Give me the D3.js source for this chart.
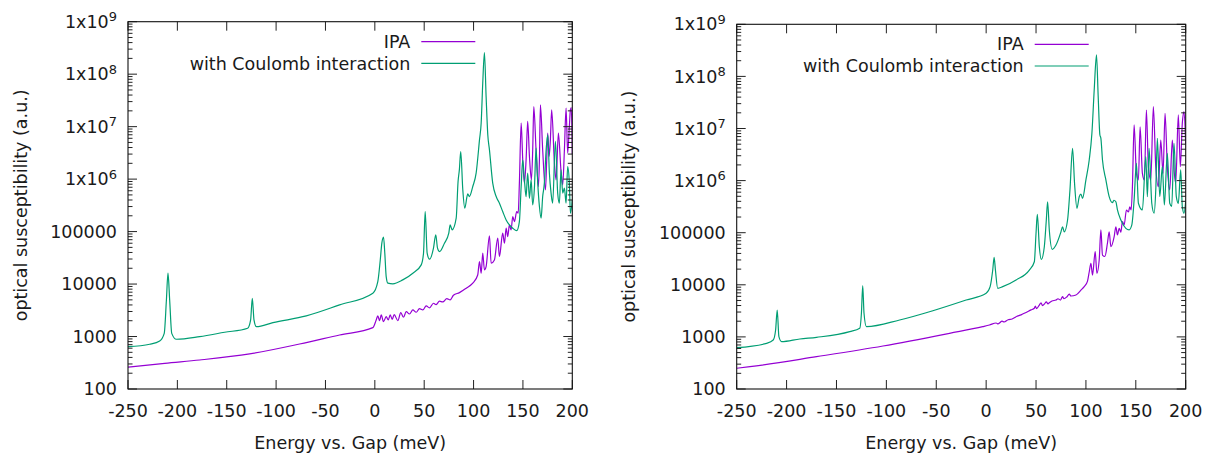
<!DOCTYPE html>
<html>
<head>
<meta charset="utf-8">
<script src="https://cdn.jsdelivr.net/npm/d3@7"></script>
<style>
  body { margin: 0; background: #fff; }
  text { font-family: "DejaVu Sans", sans-serif; fill: #1a1a1a; }
</style>
</head>
<body>
<svg id="chart" width="1213" height="454"></svg>
<script>
// tick values and labels (shared by both panels)
const xTicks = [-250, -200, -150, -100, -50, 0, 50, 100, 150, 200];
const yTicks = [1e2, 1e3, 1e4, 1e5, 1e6, 1e7, 1e8, 1e9];
const yTickLabels = ["100", "1000", "10000", "100000", "1x10^6", "1x10^7", "1x10^8", "1x10^9"];
const seriesNames = ["IPA", "with Coulomb interaction"];

// [energy (meV), susceptibility]
const leftIpa = [
  [-250, 260], [-212.8, 309], [-177.4, 357], [-126.8, 466], [-76.2, 720], [-35.7, 1070], [-2, 1475],
  [1.4, 2070], [3, 2470], [4.8, 2010], [6.5, 2580], [8.8, 1920], [11.5, 2390], [13.6, 2070],
  [15.6, 2580], [17.6, 2130], [19.6, 2610], [23.3, 2010], [26.3, 2850], [29, 2330], [31.8, 2980],
  [35.1, 2690], [38.5, 3210], [41.9, 2900], [45.2, 3400], [48.6, 3210], [52, 3830], [55.4, 3510],
  [59.4, 4310], [62.1, 4060], [65.5, 4710], [68.8, 4560], [72.9, 5270], [76.3, 4980], [79.6, 6120],
  [85.7, 6870], [92.5, 8340], [99.2, 10400], [104.2, 14900], [106, 26800], [107.7, 16100],
  [109.3, 38700], [111, 18600], [112.7, 21500], [116.1, 82800], [117.8, 24900], [121.1, 28800],
  [124.5, 74800], [126.2, 33400], [129.5, 93300], [131.3, 60100], [133, 116000], [134.6, 80400],
  [136.3, 134000], [138, 108000], [139.7, 193000], [141.4, 155000], [143.7, 241000], [145.2, 224000],
  [146.4, 838000], [148.2, 1.17e7], [149.8, 2.33e6], [151.5, 838000], [153.2, 2.33e6], [154.8, 1.26e7],
  [156.6, 2.7e6], [158.6, 968000], [159.9, 3.6e6], [161, 2.42e7], [163.3, 3.6e6], [165.7, 721000],
  [166.7, 2.33e6], [167.7, 2.61e7], [170, 3.6e6], [172.8, 625000], [174.1, 2.33e6], [175.1, 7.5e6],
  [176.5, 2.7e6], [177.8, 5.6e6], [179.1, 2.1e7], [181.9, 2.02e6], [183.6, 968000], [185.9, 7.5e6],
  [188.6, 1.4e6], [190.3, 778000], [192, 3.6e6], [193.7, 2.26e7], [195.3, 3.13e6], [197, 1e7],
  [198.1, 2.1e7], [199, 2.3e7], [200, 3e6]
];
const leftCoulomb = [
  [-250, 640], [-228, 713], [-217.9, 822], [-213.3, 1150], [-211.1, 4980], [-209.5, 16100],
  [-207.8, 4980], [-205.7, 1150], [-201, 887], [-177.4, 995], [-152.1, 1205], [-128.8, 1440],
  [-125.8, 2070], [-124.1, 5370], [-122.4, 2070], [-120, 1540], [-103.2, 1840], [-69.4, 2470],
  [-35.7, 4000], [-2, 6680], [3, 11100], [5.5, 28800], [7.1, 60100], [8.8, 78200], [10.1, 38700],
  [11.5, 13900], [13.2, 10400], [18.2, 10100], [28.3, 12000], [38.5, 16100], [47, 23200],
  [49.3, 38700], [51, 241000], [53, 38700], [55.4, 29800], [59.4, 48300], [61.7, 86500],
  [63.5, 48300], [65.5, 41600], [70.5, 60100], [74.9, 93300], [76.3, 134000], [78.3, 108000],
  [82.4, 180000], [84.3, 900000], [85.6, 1.5e6], [87, 3.36e6], [89.1, 625000], [91.1, 280000],
  [94.1, 524000], [95.8, 465000], [99.2, 722000], [102.6, 1.3e6], [106, 5.6e6], [107.7, 1.17e7],
  [109.3, 6.78e7], [111, 2.59e8], [112.7, 3.76e7], [114.4, 7e6], [116.1, 3.61e6], [119.4, 838000],
  [122.9, 465000], [126.2, 348000], [129.5, 241000], [133, 167000], [136.3, 134000], [139.7, 116000],
  [143.7, 104000], [146.4, 155000], [148.2, 721000], [149.8, 2.33e6], [151.5, 968000], [153.2, 465000],
  [154.8, 1.3e6], [156.6, 431000], [158.3, 968000], [159.9, 323000], [161.7, 721000], [163.3, 3.9e6],
  [165, 838000], [166.7, 300000], [168.4, 180000], [170, 465000], [171.7, 838000], [173.5, 3.61e6],
  [175.1, 7e6], [176.8, 1.3e6], [178.5, 540000], [180.1, 348000], [182.9, 5.25e6], [185.2, 540000],
  [186.9, 348000], [188.6, 1.5e6], [190.3, 540000], [192, 673000], [193.7, 348000], [195.3, 1.74e6],
  [197, 838000], [198.1, 224000], [200, 400000]
];

// [energy (meV), susceptibility]
const rightIpa = [
  [-250, 250], [-236.7, 268], [-170, 417], [-103.4, 669], [-36.7, 1170], [-3.4, 1570], [3.3, 1690],
  [10, 1850], [12, 1780], [16, 2000], [18, 1930], [22, 2130], [26, 2200], [30, 2440], [35, 2650],
  [40, 2950], [45, 3300], [48.3, 3540], [49.3, 3900], [50.5, 3500], [53.3, 4090], [55, 4500],
  [56.5, 4000], [58.5, 4300], [60.3, 4700], [62, 4300], [63.3, 4530], [66, 4900], [70, 5100],
  [72, 5400], [74.5, 5100], [76.6, 5920], [78, 5400], [81, 5900], [83.3, 6600], [85, 6100],
  [90, 6370], [95, 7900], [98.3, 9210], [101.6, 11800], [103.3, 17600], [105, 25900], [106.6, 15400],
  [109.3, 43200], [111, 16600], [113.3, 29900], [115, 113000], [116.6, 37300], [119, 35000],
  [121.6, 63400], [123.3, 104000], [125, 53800], [128.3, 83800], [130, 130000], [131.6, 90400],
  [133.3, 121000], [135, 103000], [136.6, 163000], [138.3, 141000], [140.6, 273000], [142.6, 250000],
  [144, 315000], [145.3, 273000], [146.6, 764000], [148.3, 1.17e7], [150.6, 1.38e6], [152.6, 1.03e6],
  [154.3, 1.08e7], [156.6, 1.38e6], [158.6, 1.03e6], [160.6, 2.26e7], [162.6, 1.85e6], [165, 1.03e6],
  [167.6, 2.62e7], [170, 1.85e6], [172.6, 764000], [175, 6e6], [177.3, 1.38e6], [179.3, 1.96e7],
  [181.6, 1.85e6], [184, 661000], [186.6, 6e6], [188.6, 1.38e6], [190, 887000], [192.6, 1.82e7],
  [194.6, 1.85e6], [196.6, 1.26e7], [198.3, 2.1e7], [200, 5e6]
];
const rightCoulomb = [
  [-250, 621], [-220, 753], [-213.4, 871], [-211, 1355], [-209.4, 3280], [-207.7, 1010], [-205, 809],
  [-186.7, 912], [-170, 982], [-136.7, 1260], [-126.7, 1460], [-125, 2840], [-123.7, 9620],
  [-122.4, 2840], [-120, 1570], [-86.7, 2110], [-53.4, 3180], [-20, 5110], [0, 6870], [4, 9210],
  [6.6, 19200], [8, 33700], [9.3, 19200], [11.6, 8570], [16.6, 9210], [30, 12400], [43.3, 19200],
  [48.3, 27700], [50, 97300], [51.3, 225000], [53.3, 53800], [55.3, 30800], [58.3, 53800],
  [60.3, 175000], [61.6, 393000], [63.3, 113000], [66.3, 48000], [70, 58000], [75, 104000],
  [76.6, 130000], [78.3, 104000], [81.6, 175000], [84, 661000], [86.6, 4.17e6], [88.6, 887000],
  [91, 294000], [93.3, 491000], [95, 550000], [96.6, 457000], [100, 1.03e6], [103.3, 2.48e6],
  [106, 8.09e6], [108.3, 5.48e7], [110.6, 2.58e8], [112.3, 4.07e7], [114, 7.5e6], [115, 6.48e6],
  [116.6, 2.48e6], [120, 1.03e6], [123.3, 491000], [126.6, 377000], [128, 420000], [130, 393000],
  [131.6, 273000], [135, 175000], [140, 121000], [143.3, 113000], [146, 141000], [148.3, 424000],
  [150.6, 2.15e6], [152.6, 367000], [156.6, 273000], [160, 2.88e6], [161.6, 491000], [163.3, 4.17e6],
  [166, 367000], [168.3, 236000], [170, 661000], [171.6, 6.48e6], [174, 491000], [176.6, 1.85e6],
  [178.6, 340000], [181.6, 3.34e6], [184, 367000], [186, 320000], [188.3, 5.2e6], [190.6, 491000],
  [192.6, 367000], [195, 1.6e6], [196.6, 316000], [198.3, 236000], [200, 400000]
];

const colors = ["#9400d3", "#009e73"];
const fontSize = 17.5;

const panels = [
  { id: "l", box: { left: 128, right: 572.3, top: 21.7, bottom: 389 }, series: [leftIpa, leftCoulomb] },
  { id: "r", box: { left: 736.7, right: 1185.7, top: 24.3, bottom: 389 }, series: [rightIpa, rightCoulomb] }
];

const svg = d3.select("#chart");
const defs = svg.append("defs");

panels.forEach(p => {
  const b = p.box;
  const x = d3.scaleLinear().domain([-250, 200]).range([b.left, b.right]);
  const y = d3.scaleLog().domain([1e2, 1e9]).range([b.bottom, b.top]);
  const g = svg.append("g");

  defs.append("clipPath").attr("id", "clip-" + p.id)
    .append("rect")
    .attr("x", b.left).attr("y", b.top)
    .attr("width", b.right - b.left).attr("height", b.bottom - b.top);

  // curves (monotone so peaks don't overshoot)
  const line = d3.line().x(d => x(d[0])).y(d => y(d[1])).curve(d3.curveMonotoneX);
  const curves = g.append("g").attr("clip-path", `url(#clip-${p.id})`);
  p.series.forEach((s, i) => {
    curves.append("path")
      .attr("d", line(s))
      .attr("fill", "none")
      .attr("stroke", colors[i])
      .attr("stroke-width", 1.2)
      .attr("stroke-linejoin", "round");
  });

  // ticks
  const ticks = g.append("g").attr("stroke", "#222").attr("stroke-width", 1);
  xTicks.forEach(t => {
    const xp = x(t);
    ticks.append("line").attr("x1", xp).attr("x2", xp).attr("y1", b.bottom).attr("y2", b.bottom - 9);
    ticks.append("line").attr("x1", xp).attr("x2", xp).attr("y1", b.top).attr("y2", b.top + 9);
  });
  yTicks.forEach((t, i) => {
    const yp = y(t);
    ticks.append("line").attr("x1", b.left).attr("x2", b.left + 9).attr("y1", yp).attr("y2", yp);
    ticks.append("line").attr("x1", b.right).attr("x2", b.right - 9).attr("y1", yp).attr("y2", yp);
    if (i === yTicks.length - 1) return;
    for (let k = 2; k <= 9; k++) {
      const ym = y(t * k);
      ticks.append("line").attr("x1", b.left).attr("x2", b.left + 4.5).attr("y1", ym).attr("y2", ym);
      ticks.append("line").attr("x1", b.right).attr("x2", b.right - 4.5).attr("y1", ym).attr("y2", ym);
    }
  });

  // frame
  g.append("rect")
    .attr("x", b.left).attr("y", b.top)
    .attr("width", b.right - b.left).attr("height", b.bottom - b.top)
    .attr("fill", "none").attr("stroke", "#111").attr("stroke-width", 1.1);

  // x tick labels
  g.append("g").selectAll("text").data(xTicks).join("text")
    .attr("x", d => x(d)).attr("y", b.bottom + 22).attr("dy", "0.35em")
    .attr("text-anchor", "middle").style("font-size", fontSize + "px")
    .text(d => d);

  // y tick labels
  yTicks.forEach((t, i) => {
    const parts = yTickLabels[i].split("^");
    const txt = g.append("text")
      .attr("x", b.left - 11).attr("y", y(t)).attr("dy", "0.35em")
      .attr("text-anchor", "end").style("font-size", fontSize + "px");
    txt.append("tspan").text(parts[0]);
    if (parts[1]) {
      txt.append("tspan").attr("dy", "-0.5em").style("font-size", "13px").text(parts[1]);
    }
  });

  // axis titles
  g.append("text")
    .attr("x", (b.left + b.right) / 2).attr("y", b.bottom + 54).attr("dy", "0.35em")
    .attr("text-anchor", "middle").style("font-size", fontSize + "px")
    .text("Energy vs. Gap (meV)");
  g.append("text")
    .attr("transform", `translate(${b.left - 107.5},${(b.top + b.bottom) / 2}) rotate(-90)`)
    .attr("dy", "0.35em")
    .attr("text-anchor", "middle").style("font-size", fontSize + "px")
    .text("optical susceptibility (a.u.)");

  // legend
  seriesNames.forEach((name, i) => {
    const ly = b.top + 20 + i * 21.7;
    g.append("text")
      .attr("x", b.right - 162).attr("y", ly).attr("dy", "0.35em")
      .attr("text-anchor", "end").style("font-size", fontSize + "px")
      .text(name);
    g.append("line")
      .attr("x1", b.right - 151).attr("x2", b.right - 97)
      .attr("y1", ly).attr("y2", ly)
      .attr("stroke", colors[i]).attr("stroke-width", 1.2);
  });
});
</script>
</body>
</html>
